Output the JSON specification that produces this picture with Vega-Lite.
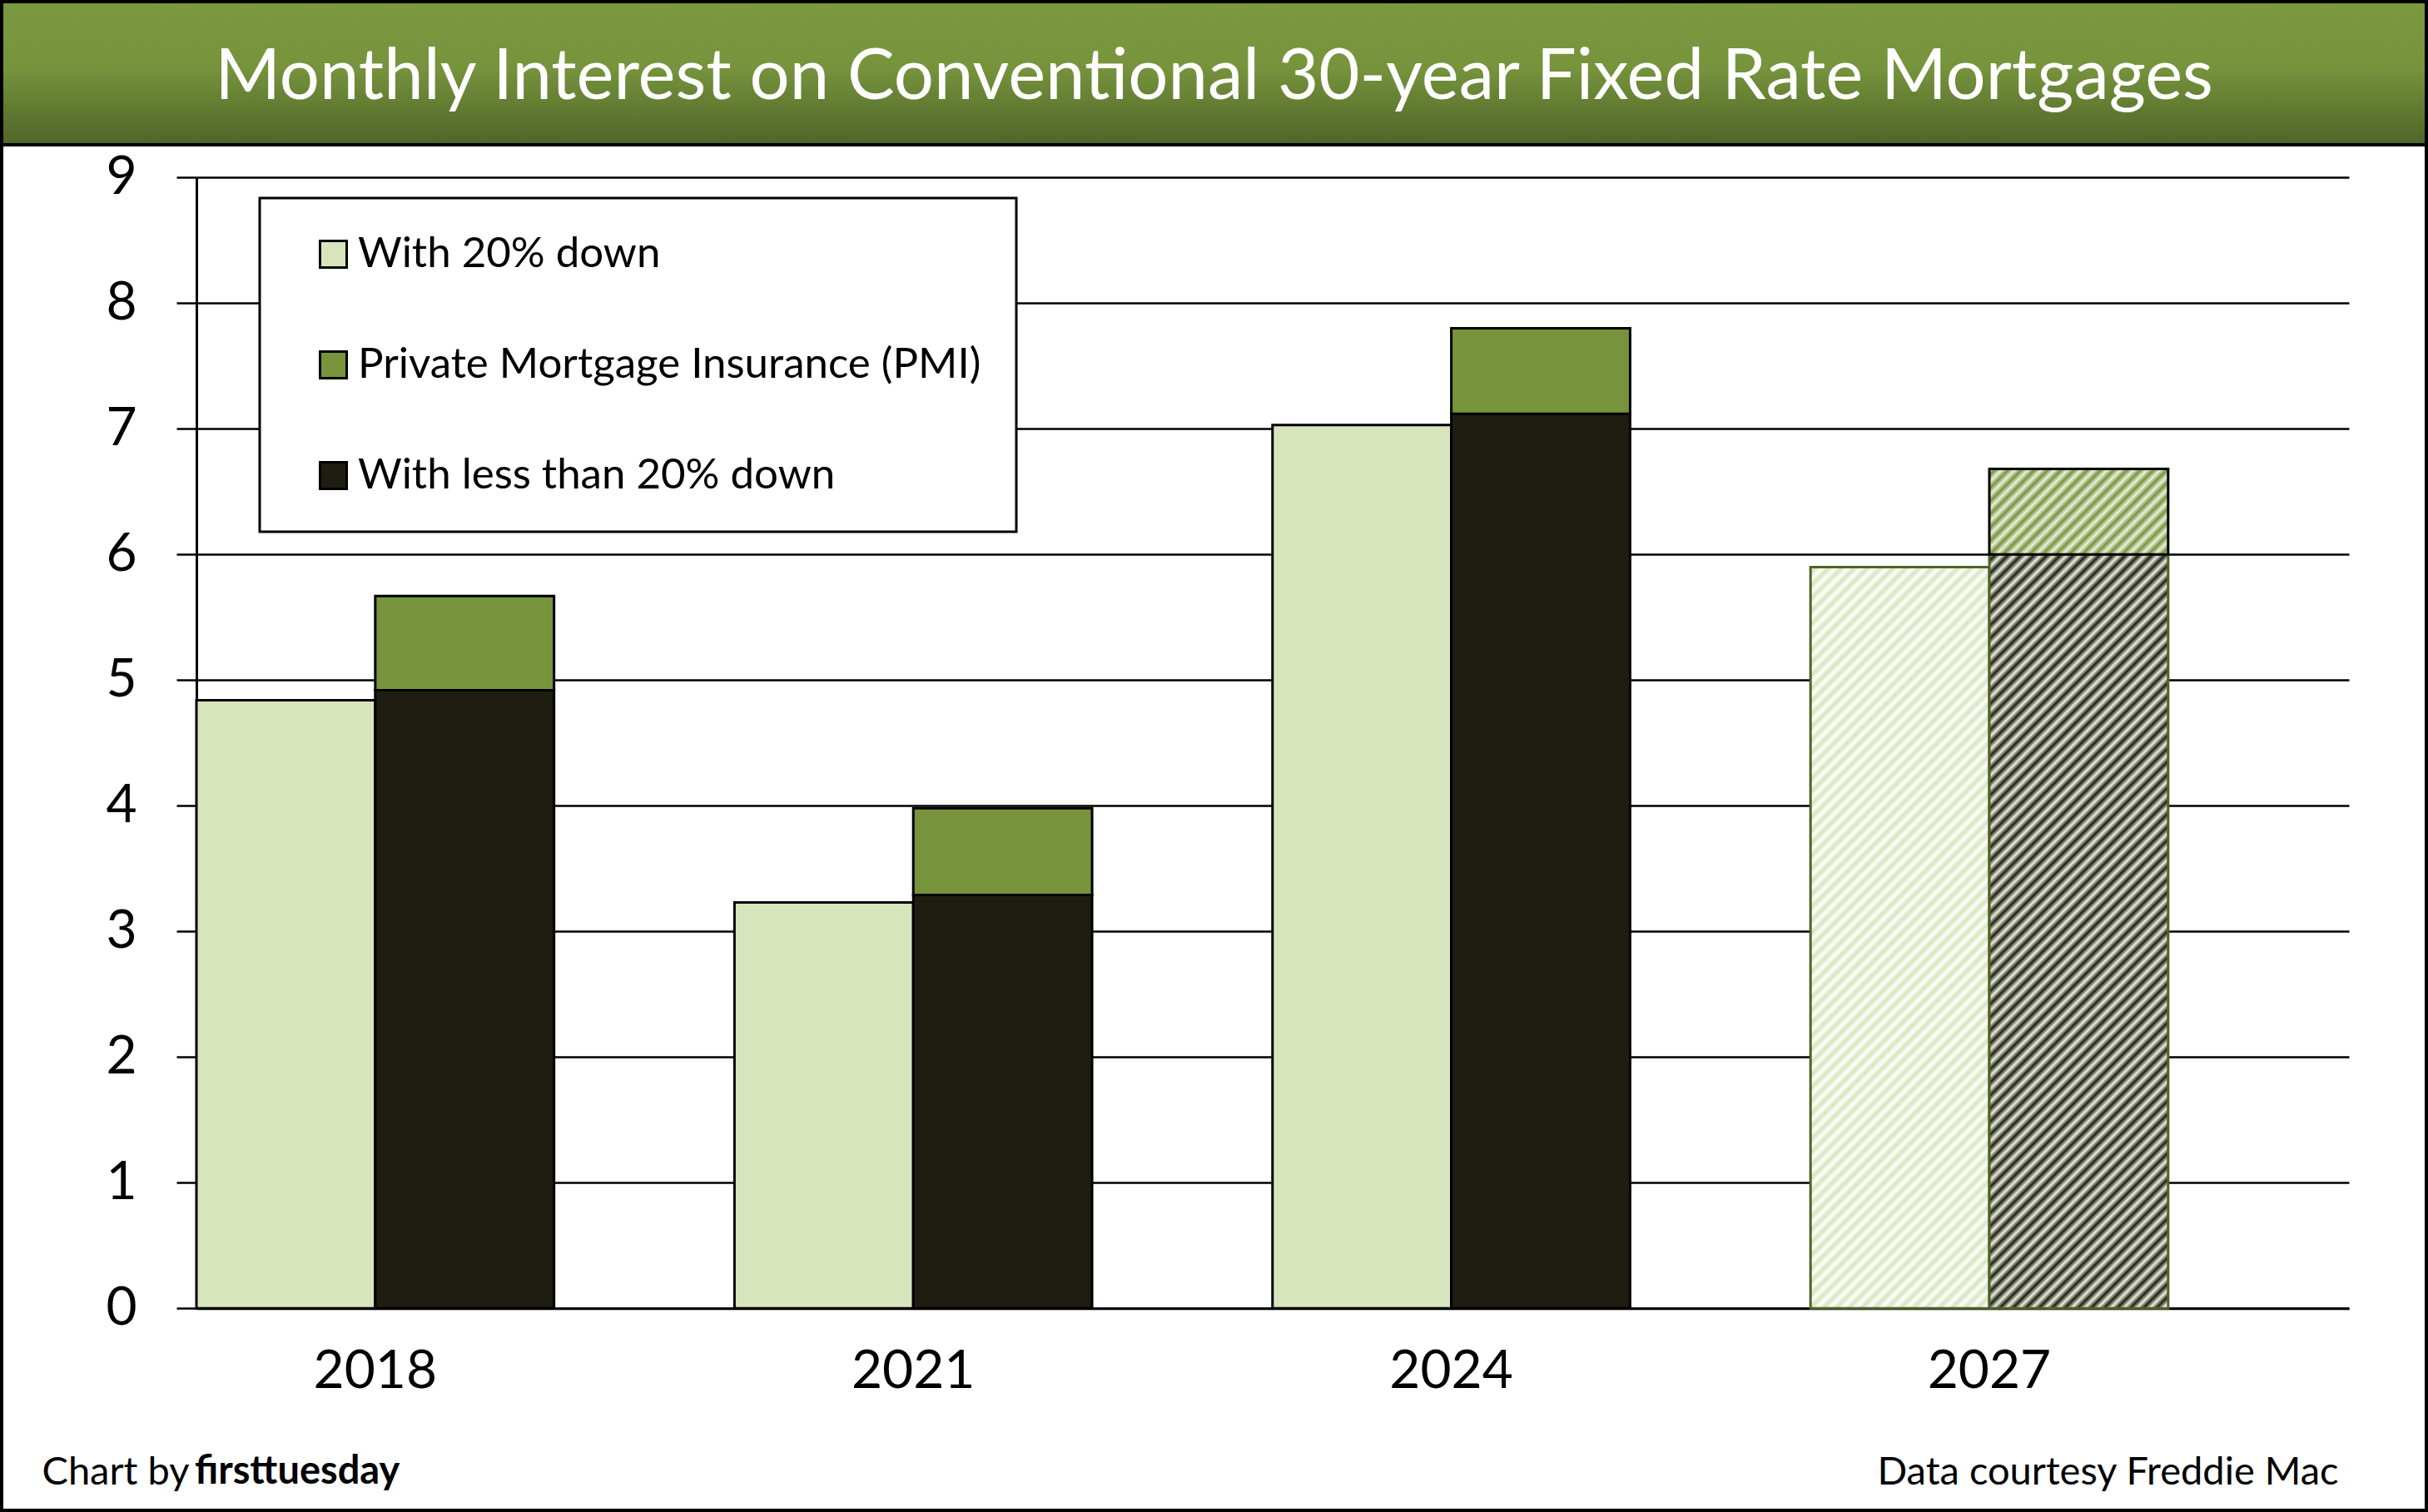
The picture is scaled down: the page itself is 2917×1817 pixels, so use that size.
{
  "$schema": "https://vega.github.io/schema/vega-lite/v6.json",
  "padding": 0,
  "autosize": {"type": "pad"},
  "background": "white",
  "spacing": 0,
  "bounds": "flush",
  "config": {"font": "Lato", "axis": {"labelColor": "black", "titleColor": "black"}},
  "datasets": {
    "rates": [
      {"year": 2018, "bar": "20% down", "part": "With 20% down", "value": 4.84},
      {"year": 2018, "bar": "Less than 20% down", "part": "With less than 20% down", "value": 4.92},
      {"year": 2018, "bar": "Less than 20% down", "part": "Private Mortgage Insurance (PMI)", "value": 0.75},
      {"year": 2021, "bar": "20% down", "part": "With 20% down", "value": 3.23},
      {"year": 2021, "bar": "Less than 20% down", "part": "With less than 20% down", "value": 3.29},
      {"year": 2021, "bar": "Less than 20% down", "part": "Private Mortgage Insurance (PMI)", "value": 0.69},
      {"year": 2024, "bar": "20% down", "part": "With 20% down", "value": 7.03},
      {"year": 2024, "bar": "Less than 20% down", "part": "With less than 20% down", "value": 7.12},
      {"year": 2024, "bar": "Less than 20% down", "part": "Private Mortgage Insurance (PMI)", "value": 0.68},
      {"year": 2027, "bar": "20% down", "part": "With 20% down", "value": 5.90},
      {"year": 2027, "bar": "Less than 20% down", "part": "With less than 20% down", "value": 6.00},
      {"year": 2027, "bar": "Less than 20% down", "part": "Private Mortgage Insurance (PMI)", "value": 0.68}
    ]
  },
  "vconcat": [
    {
      "width": 2913,
      "height": 172,
      "view": {
        "stroke": "black",
        "strokeWidth": 4,
        "fill": {"gradient": "linear", "x1": 0, "y1": 0, "x2": 0, "y2": 1, "stops": [
          {"offset": 0, "color": "#7b993f"},
          {"offset": 0.45, "color": "#77943d"},
          {"offset": 1, "color": "#4f6528"}
        ]}
      },
      "data": {"values": [{"title": "Monthly Interest on Conventional 30-year Fixed Rate Mortgages"}]},
      "mark": {"type": "text", "color": "white", "fontSize": 85, "font": "Lato", "dy": 5},
      "encoding": {"text": {"field": "title", "type": "nominal"}}
    },
    {
      "width": 2913,
      "height": 1641,
      "view": {"stroke": "black", "strokeWidth": 4, "fill": "white"},
      "title": {"text": "firsttuesday", "orient": "bottom", "anchor": "start", "frame": "group", "offset": -46, "dx": 232, "baseline": "middle", "fontSize": 47, "fontWeight": "bold", "font": "Lato", "color": "black"},
      "data": {"name": "rates"},
      "transform": [
        {"stack": "value", "groupby": ["year", "bar"], "sort": [{"field": "part", "order": "descending"}], "as": ["v0", "v1"]}
      ],
      "encoding": {
        "x": {
          "field": "year", "type": "ordinal",
          "scale": {"range": [234, 2820], "paddingInner": 0.3353, "paddingOuter": 0.168, "align": 0},
          "axis": {
            "orient": "bottom", "offset": -242.7, "labelAngle": 0, "labelFontSize": 64, "labelPadding": 44,
            "ticks": false, "tickSize": 0, "domainColor": "black", "domainWidth": 3, "grid": false,
            "title": "Data courtesy Freddie Mac", "titleX": 2807, "titleY": 196.7, "titleAlign": "right",
            "titleBaseline": "middle", "titleFontSize": 47, "titleFontWeight": "normal", "titleAngle": 0
          }
        },
        "xOffset": {"field": "bar", "type": "nominal", "scale": {"domain": ["20% down", "Less than 20% down"], "paddingInner": 0, "paddingOuter": 0}},
        "y": {
          "field": "v1", "type": "quantitative",
          "scale": {"domain": [0, 9], "range": [1398.3, 39.3], "nice": false, "zero": true},
          "axis": {
            "orient": "left", "offset": -234, "values": [0, 1, 2, 3, 4, 5, 6, 7, 8, 9],
            "labelFontSize": 64, "labelPadding": 48, "tickSize": 24, "tickColor": "black", "tickWidth": 2.5,
            "domainColor": "black", "domainWidth": 3, "grid": true, "gridColor": "black", "gridWidth": 2.5, "gridOpacity": 1,
            "title": "Chart by", "titleAngle": 0, "titleX": -186, "titleY": 1595, "titleAlign": "left",
            "titleBaseline": "middle", "titleFontSize": 47, "titleFontWeight": "normal"
          }
        },
        "y2": {"field": "v0"}
      },
      "layer": [
        {
          "transform": [{"filter": "datum.year != 2027"}],
          "mark": {"type": "bar", "stroke": "black", "strokeWidth": 3},
          "encoding": {
            "color": {
              "field": "part", "type": "nominal",
              "scale": {"domain": ["With 20% down", "Private Mortgage Insurance (PMI)", "With less than 20% down"], "range": ["#d8e4bc", "#77933c", "#1f1d12"]},
              "legend": {
                "orient": "none", "legendX": 310, "legendY": 236, "title": null,
                "fillColor": "white", "strokeColor": "black", "padding": 42,
                "symbolType": "square", "symbolSize": 1024, "symbolStrokeColor": "black", "symbolStrokeWidth": 3,
                "symbolOffset": 21, "labelFontSize": 51, "labelFont": "Lato", "labelColor": "black",
                "labelOffset": 4, "rowPadding": 81, "labelLimit": 0,
                "labelExpr": "(datum.label == 'With 20% down' ? '\u00a0' : '') + datum.label + '   '",
                "encode": {"legend": {"update": {"strokeWidth": {"value": 3}}}}
              }
            }
          }
        },
        {
          "transform": [{"filter": "datum.year == 2027 && datum.part == 'With 20% down'"}],
          "mark": {"type": "bar", "stroke": "#4f6228", "strokeWidth": 3, "fill": {"gradient": "linear", "x1": 0, "y1": 0, "x2": 0.2828, "y2": 1.1729, "stops": [
            {"offset":0,"color":"#fff"},{"offset":0.007,"color":"#d8e4bc"},{"offset":0.014,"color":"#fff"},{"offset":0.021,"color":"#d8e4bc"},{"offset":0.028,"color":"#fff"},{"offset":0.035,"color":"#d8e4bc"},{"offset":0.042,"color":"#fff"},{"offset":0.049,"color":"#d8e4bc"},{"offset":0.056,"color":"#fff"},{"offset":0.063,"color":"#d8e4bc"},
            {"offset":0.07,"color":"#fff"},{"offset":0.077,"color":"#d8e4bc"},{"offset":0.084,"color":"#fff"},{"offset":0.091,"color":"#d8e4bc"},{"offset":0.098,"color":"#fff"},{"offset":0.105,"color":"#d8e4bc"},{"offset":0.112,"color":"#fff"},{"offset":0.119,"color":"#d8e4bc"},{"offset":0.126,"color":"#fff"},{"offset":0.133,"color":"#d8e4bc"},
            {"offset":0.14,"color":"#fff"},{"offset":0.147,"color":"#d8e4bc"},{"offset":0.154,"color":"#fff"},{"offset":0.161,"color":"#d8e4bc"},{"offset":0.168,"color":"#fff"},{"offset":0.175,"color":"#d8e4bc"},{"offset":0.182,"color":"#fff"},{"offset":0.189,"color":"#d8e4bc"},{"offset":0.196,"color":"#fff"},{"offset":0.203,"color":"#d8e4bc"},
            {"offset":0.21,"color":"#fff"},{"offset":0.217,"color":"#d8e4bc"},{"offset":0.224,"color":"#fff"},{"offset":0.231,"color":"#d8e4bc"},{"offset":0.238,"color":"#fff"},{"offset":0.245,"color":"#d8e4bc"},{"offset":0.252,"color":"#fff"},{"offset":0.259,"color":"#d8e4bc"},{"offset":0.266,"color":"#fff"},{"offset":0.273,"color":"#d8e4bc"},
            {"offset":0.28,"color":"#fff"},{"offset":0.287,"color":"#d8e4bc"},{"offset":0.294,"color":"#fff"},{"offset":0.301,"color":"#d8e4bc"},{"offset":0.308,"color":"#fff"},{"offset":0.315,"color":"#d8e4bc"},{"offset":0.322,"color":"#fff"},{"offset":0.329,"color":"#d8e4bc"},{"offset":0.336,"color":"#fff"},{"offset":0.343,"color":"#d8e4bc"},
            {"offset":0.35,"color":"#fff"},{"offset":0.357,"color":"#d8e4bc"},{"offset":0.364,"color":"#fff"},{"offset":0.371,"color":"#d8e4bc"},{"offset":0.378,"color":"#fff"},{"offset":0.385,"color":"#d8e4bc"},{"offset":0.392,"color":"#fff"},{"offset":0.399,"color":"#d8e4bc"},{"offset":0.406,"color":"#fff"},{"offset":0.413,"color":"#d8e4bc"},
            {"offset":0.42,"color":"#fff"},{"offset":0.427,"color":"#d8e4bc"},{"offset":0.434,"color":"#fff"},{"offset":0.441,"color":"#d8e4bc"},{"offset":0.448,"color":"#fff"},{"offset":0.455,"color":"#d8e4bc"},{"offset":0.462,"color":"#fff"},{"offset":0.469,"color":"#d8e4bc"},{"offset":0.476,"color":"#fff"},{"offset":0.483,"color":"#d8e4bc"},
            {"offset":0.49,"color":"#fff"},{"offset":0.497,"color":"#d8e4bc"},{"offset":0.504,"color":"#fff"},{"offset":0.511,"color":"#d8e4bc"},{"offset":0.518,"color":"#fff"},{"offset":0.525,"color":"#d8e4bc"},{"offset":0.532,"color":"#fff"},{"offset":0.539,"color":"#d8e4bc"},{"offset":0.546,"color":"#fff"},{"offset":0.553,"color":"#d8e4bc"},
            {"offset":0.56,"color":"#fff"},{"offset":0.567,"color":"#d8e4bc"},{"offset":0.574,"color":"#fff"},{"offset":0.581,"color":"#d8e4bc"},{"offset":0.588,"color":"#fff"},{"offset":0.595,"color":"#d8e4bc"},{"offset":0.602,"color":"#fff"},{"offset":0.609,"color":"#d8e4bc"},{"offset":0.616,"color":"#fff"},{"offset":0.623,"color":"#d8e4bc"},
            {"offset":0.63,"color":"#fff"},{"offset":0.637,"color":"#d8e4bc"},{"offset":0.644,"color":"#fff"},{"offset":0.651,"color":"#d8e4bc"},{"offset":0.658,"color":"#fff"},{"offset":0.665,"color":"#d8e4bc"},{"offset":0.672,"color":"#fff"},{"offset":0.679,"color":"#d8e4bc"},{"offset":0.686,"color":"#fff"},{"offset":0.693,"color":"#d8e4bc"},
            {"offset":0.7,"color":"#fff"},{"offset":0.707,"color":"#d8e4bc"},{"offset":0.714,"color":"#fff"},{"offset":0.721,"color":"#d8e4bc"},{"offset":0.728,"color":"#fff"},{"offset":0.735,"color":"#d8e4bc"},{"offset":0.742,"color":"#fff"},{"offset":0.749,"color":"#d8e4bc"},{"offset":0.756,"color":"#fff"},{"offset":0.763,"color":"#d8e4bc"},
            {"offset":0.77,"color":"#fff"},{"offset":0.777,"color":"#d8e4bc"},{"offset":0.784,"color":"#fff"},{"offset":0.791,"color":"#d8e4bc"},{"offset":0.798,"color":"#fff"},{"offset":0.805,"color":"#d8e4bc"},{"offset":0.812,"color":"#fff"},{"offset":0.819,"color":"#d8e4bc"},{"offset":0.826,"color":"#fff"},{"offset":0.833,"color":"#d8e4bc"},
            {"offset":0.84,"color":"#fff"},{"offset":0.847,"color":"#d8e4bc"},{"offset":0.854,"color":"#fff"},{"offset":0.861,"color":"#d8e4bc"},{"offset":0.868,"color":"#fff"},{"offset":0.875,"color":"#d8e4bc"},{"offset":0.882,"color":"#fff"},{"offset":0.889,"color":"#d8e4bc"},{"offset":0.896,"color":"#fff"},{"offset":0.903,"color":"#d8e4bc"},
            {"offset":0.91,"color":"#fff"},{"offset":0.917,"color":"#d8e4bc"},{"offset":0.924,"color":"#fff"},{"offset":0.931,"color":"#d8e4bc"},{"offset":0.938,"color":"#fff"},{"offset":0.945,"color":"#d8e4bc"},{"offset":0.952,"color":"#fff"},{"offset":0.959,"color":"#d8e4bc"},{"offset":0.966,"color":"#fff"},{"offset":0.973,"color":"#d8e4bc"},
            {"offset":0.98,"color":"#fff"},{"offset":0.987,"color":"#d8e4bc"},{"offset":0.994,"color":"#fff"}
          ]}}
        },
        {
          "transform": [{"filter": "datum.year == 2027 && datum.part == 'With less than 20% down'"}],
          "mark": {"type": "bar", "stroke": "#4f6228", "strokeWidth": 3, "fill": {"gradient": "linear", "x1": 0, "y1": 0, "x2": 0.2777, "y2": 1.1713, "stops": [
            {"offset":0,"color":"#ebf1de"},{"offset":0.007,"color":"#1f1d12"},{"offset":0.014,"color":"#ebf1de"},{"offset":0.021,"color":"#1f1d12"},{"offset":0.028,"color":"#ebf1de"},{"offset":0.035,"color":"#1f1d12"},{"offset":0.042,"color":"#ebf1de"},{"offset":0.049,"color":"#1f1d12"},{"offset":0.056,"color":"#ebf1de"},{"offset":0.063,"color":"#1f1d12"},
            {"offset":0.07,"color":"#ebf1de"},{"offset":0.077,"color":"#1f1d12"},{"offset":0.084,"color":"#ebf1de"},{"offset":0.091,"color":"#1f1d12"},{"offset":0.098,"color":"#ebf1de"},{"offset":0.105,"color":"#1f1d12"},{"offset":0.112,"color":"#ebf1de"},{"offset":0.119,"color":"#1f1d12"},{"offset":0.126,"color":"#ebf1de"},{"offset":0.133,"color":"#1f1d12"},
            {"offset":0.14,"color":"#ebf1de"},{"offset":0.147,"color":"#1f1d12"},{"offset":0.154,"color":"#ebf1de"},{"offset":0.161,"color":"#1f1d12"},{"offset":0.168,"color":"#ebf1de"},{"offset":0.175,"color":"#1f1d12"},{"offset":0.182,"color":"#ebf1de"},{"offset":0.189,"color":"#1f1d12"},{"offset":0.196,"color":"#ebf1de"},{"offset":0.203,"color":"#1f1d12"},
            {"offset":0.21,"color":"#ebf1de"},{"offset":0.217,"color":"#1f1d12"},{"offset":0.224,"color":"#ebf1de"},{"offset":0.231,"color":"#1f1d12"},{"offset":0.238,"color":"#ebf1de"},{"offset":0.245,"color":"#1f1d12"},{"offset":0.252,"color":"#ebf1de"},{"offset":0.259,"color":"#1f1d12"},{"offset":0.266,"color":"#ebf1de"},{"offset":0.273,"color":"#1f1d12"},
            {"offset":0.28,"color":"#ebf1de"},{"offset":0.287,"color":"#1f1d12"},{"offset":0.294,"color":"#ebf1de"},{"offset":0.301,"color":"#1f1d12"},{"offset":0.308,"color":"#ebf1de"},{"offset":0.315,"color":"#1f1d12"},{"offset":0.322,"color":"#ebf1de"},{"offset":0.329,"color":"#1f1d12"},{"offset":0.336,"color":"#ebf1de"},{"offset":0.343,"color":"#1f1d12"},
            {"offset":0.35,"color":"#ebf1de"},{"offset":0.357,"color":"#1f1d12"},{"offset":0.364,"color":"#ebf1de"},{"offset":0.371,"color":"#1f1d12"},{"offset":0.378,"color":"#ebf1de"},{"offset":0.385,"color":"#1f1d12"},{"offset":0.392,"color":"#ebf1de"},{"offset":0.399,"color":"#1f1d12"},{"offset":0.406,"color":"#ebf1de"},{"offset":0.413,"color":"#1f1d12"},
            {"offset":0.42,"color":"#ebf1de"},{"offset":0.427,"color":"#1f1d12"},{"offset":0.434,"color":"#ebf1de"},{"offset":0.441,"color":"#1f1d12"},{"offset":0.448,"color":"#ebf1de"},{"offset":0.455,"color":"#1f1d12"},{"offset":0.462,"color":"#ebf1de"},{"offset":0.469,"color":"#1f1d12"},{"offset":0.476,"color":"#ebf1de"},{"offset":0.483,"color":"#1f1d12"},
            {"offset":0.49,"color":"#ebf1de"},{"offset":0.497,"color":"#1f1d12"},{"offset":0.504,"color":"#ebf1de"},{"offset":0.511,"color":"#1f1d12"},{"offset":0.518,"color":"#ebf1de"},{"offset":0.525,"color":"#1f1d12"},{"offset":0.532,"color":"#ebf1de"},{"offset":0.539,"color":"#1f1d12"},{"offset":0.546,"color":"#ebf1de"},{"offset":0.553,"color":"#1f1d12"},
            {"offset":0.56,"color":"#ebf1de"},{"offset":0.567,"color":"#1f1d12"},{"offset":0.574,"color":"#ebf1de"},{"offset":0.581,"color":"#1f1d12"},{"offset":0.588,"color":"#ebf1de"},{"offset":0.595,"color":"#1f1d12"},{"offset":0.602,"color":"#ebf1de"},{"offset":0.609,"color":"#1f1d12"},{"offset":0.616,"color":"#ebf1de"},{"offset":0.623,"color":"#1f1d12"},
            {"offset":0.63,"color":"#ebf1de"},{"offset":0.637,"color":"#1f1d12"},{"offset":0.644,"color":"#ebf1de"},{"offset":0.651,"color":"#1f1d12"},{"offset":0.658,"color":"#ebf1de"},{"offset":0.665,"color":"#1f1d12"},{"offset":0.672,"color":"#ebf1de"},{"offset":0.679,"color":"#1f1d12"},{"offset":0.686,"color":"#ebf1de"},{"offset":0.693,"color":"#1f1d12"},
            {"offset":0.7,"color":"#ebf1de"},{"offset":0.707,"color":"#1f1d12"},{"offset":0.714,"color":"#ebf1de"},{"offset":0.721,"color":"#1f1d12"},{"offset":0.728,"color":"#ebf1de"},{"offset":0.735,"color":"#1f1d12"},{"offset":0.742,"color":"#ebf1de"},{"offset":0.749,"color":"#1f1d12"},{"offset":0.756,"color":"#ebf1de"},{"offset":0.763,"color":"#1f1d12"},
            {"offset":0.77,"color":"#ebf1de"},{"offset":0.777,"color":"#1f1d12"},{"offset":0.784,"color":"#ebf1de"},{"offset":0.791,"color":"#1f1d12"},{"offset":0.798,"color":"#ebf1de"},{"offset":0.805,"color":"#1f1d12"},{"offset":0.812,"color":"#ebf1de"},{"offset":0.819,"color":"#1f1d12"},{"offset":0.826,"color":"#ebf1de"},{"offset":0.833,"color":"#1f1d12"},
            {"offset":0.84,"color":"#ebf1de"},{"offset":0.847,"color":"#1f1d12"},{"offset":0.854,"color":"#ebf1de"},{"offset":0.861,"color":"#1f1d12"},{"offset":0.868,"color":"#ebf1de"},{"offset":0.875,"color":"#1f1d12"},{"offset":0.882,"color":"#ebf1de"},{"offset":0.889,"color":"#1f1d12"},{"offset":0.896,"color":"#ebf1de"},{"offset":0.903,"color":"#1f1d12"},
            {"offset":0.91,"color":"#ebf1de"},{"offset":0.917,"color":"#1f1d12"},{"offset":0.924,"color":"#ebf1de"},{"offset":0.931,"color":"#1f1d12"},{"offset":0.938,"color":"#ebf1de"},{"offset":0.945,"color":"#1f1d12"},{"offset":0.952,"color":"#ebf1de"},{"offset":0.959,"color":"#1f1d12"},{"offset":0.966,"color":"#ebf1de"},{"offset":0.973,"color":"#1f1d12"},
            {"offset":0.98,"color":"#ebf1de"},{"offset":0.987,"color":"#1f1d12"},{"offset":0.994,"color":"#ebf1de"}
          ]}}
        },
        {
          "transform": [{"filter": "datum.year == 2027 && datum.part == 'Private Mortgage Insurance (PMI)'"}],
          "mark": {"type": "bar", "stroke": "black", "strokeWidth": 3, "fill": {"gradient": "linear", "x1": 0, "y1": 0, "x2": 1.2031, "y2": 0.5752, "stops": [
            {"offset":0,"color":"#ebf1de"},{"offset":0.025,"color":"#77933c"},{"offset":0.05,"color":"#ebf1de"},{"offset":0.075,"color":"#77933c"},{"offset":0.1,"color":"#ebf1de"},{"offset":0.125,"color":"#77933c"},{"offset":0.15,"color":"#ebf1de"},{"offset":0.175,"color":"#77933c"},{"offset":0.2,"color":"#ebf1de"},{"offset":0.225,"color":"#77933c"},
            {"offset":0.25,"color":"#ebf1de"},{"offset":0.275,"color":"#77933c"},{"offset":0.3,"color":"#ebf1de"},{"offset":0.325,"color":"#77933c"},{"offset":0.35,"color":"#ebf1de"},{"offset":0.375,"color":"#77933c"},{"offset":0.4,"color":"#ebf1de"},{"offset":0.425,"color":"#77933c"},{"offset":0.45,"color":"#ebf1de"},{"offset":0.475,"color":"#77933c"},
            {"offset":0.5,"color":"#ebf1de"},{"offset":0.525,"color":"#77933c"},{"offset":0.55,"color":"#ebf1de"},{"offset":0.575,"color":"#77933c"},{"offset":0.6,"color":"#ebf1de"},{"offset":0.625,"color":"#77933c"},{"offset":0.65,"color":"#ebf1de"},{"offset":0.675,"color":"#77933c"},{"offset":0.7,"color":"#ebf1de"},{"offset":0.725,"color":"#77933c"},
            {"offset":0.75,"color":"#ebf1de"},{"offset":0.775,"color":"#77933c"},{"offset":0.8,"color":"#ebf1de"},{"offset":0.825,"color":"#77933c"},{"offset":0.85,"color":"#ebf1de"},{"offset":0.875,"color":"#77933c"},{"offset":0.9,"color":"#ebf1de"},{"offset":0.925,"color":"#77933c"},{"offset":0.95,"color":"#ebf1de"},{"offset":0.975,"color":"#77933c"},
            {"offset":1,"color":"#ebf1de"}
          ]}}
        }
      ]
    }
  ]
}
